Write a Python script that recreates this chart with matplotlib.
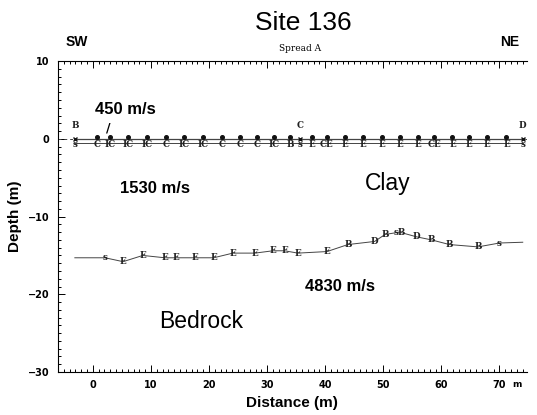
import matplotlib.pyplot as plt
from matplotlib.ticker import MultipleLocator

# geophone positions along spread A (m)
geo_x = [0.8, 3.0, 6.1, 9.4, 12.6, 15.7, 19.0, 22.3, 25.4, 28.3, 31.2, 34.0,
         37.7, 40.3, 43.4, 46.5, 49.7, 52.8, 55.9, 58.8, 61.9, 64.8, 67.9, 71.2]
# first-layer interface picks (letter codes at each geophone)
layer1_z = [-0.5] * 24
layer1_lbl = ["C", "IC", "IC", "IC", "C", "IC", "IC", "C", "C", "C", "IC", "B",
              "E", "CE", "E", "E", "E", "E", "E", "CE", "E", "E", "E", "E"]

# shot points
shot_x = [-3.0, 35.7, 74.0]
shot_lbl = ["B", "C", "D"]

# bedrock refractor
bed_x = [-3.1, 2.1, 5.2, 8.6, 12.4, 14.3, 17.6, 20.8, 24.1, 27.9, 31.0, 33.0,
         35.3, 40.3, 43.9, 48.5, 50.3, 52.8, 55.7, 58.3, 61.4, 66.3, 70.0, 74.0]
bed_z = [-15.3, -15.3, -15.8, -15.0, -15.3, -15.3, -15.3, -15.3, -14.7, -14.7,
         -14.4, -14.4, -14.7, -14.5, -13.6, -13.2, -12.3, -12.0, -12.6, -13.0,
         -13.6, -13.9, -13.4, -13.3]
bed_lbl = ["", "s", "E", "E", "E", "E", "E", "E", "E", "E", "E", "E",
           "E", "E", "B", "D", "B", "sB", "D", "B", "B", "B", "s", ""]

fig = plt.figure(figsize=(5.37, 4.15), dpi=100)
ax = fig.add_axes([0.108, 0.1036, 0.873, 0.749])

grey = "#444444"
serif = dict(family="DejaVu Serif", fontweight="bold", fontsize=6.3,
             ha="center", va="center", color="#222222")

# ground surface, dashed datum and geophones
ax.axhline(0, color=grey, lw=0.7, ls=(0, (3, 3)))
ax.plot([shot_x[0], shot_x[-1]], [0, 0], color=grey, lw=0.9)
ax.plot(geo_x, [0.3] * len(geo_x), "o", ms=2.6, color="#111111")
ax.plot(shot_x, [0, 0, 0], "x", ms=3.5, mew=1.0, color="#111111")
for x, s in zip(shot_x, shot_lbl):
    ax.text(x, 1.7, s, **serif)

# first interface
ax.plot([shot_x[0]] + geo_x + [shot_x[-1]], [-0.5] + layer1_z + [-0.5],
        color=grey, lw=0.7)
for x, z, s in zip(geo_x, layer1_z, layer1_lbl):
    ax.text(x, z - 0.2, s, **serif)
for x in shot_x:
    ax.text(x, -0.7, "s", **serif)

# bedrock
ax.plot(bed_x, bed_z, color=grey, lw=0.7)
for x, z, s in zip(bed_x, bed_z, bed_lbl):
    if s:
        ax.text(x, z, s, **serif)

# velocities and layer names
vel = dict(fontweight="bold", fontsize=12, family="Liberation Sans")
ax.text(0.4, 3.2, "450 m/s", **vel)
ax.text(2.6, 0.6, "/", fontsize=9, fontweight="bold", ha="center", va="bottom")
ax.text(4.6, -7.0, "1530 m/s", **vel)
ax.text(36.5, -19.6, "4830 m/s", **vel)
ax.text(46.8, -6.6, "Clay", fontsize=16.5, family="Liberation Sans")
ax.text(11.4, -24.4, "Bedrock", fontsize=16.5, family="Liberation Sans")

ax.set_xlim(-6, 74.7)
ax.set_ylim(-30, 10)

ax.spines["right"].set_visible(False)
for side in ["left", "top", "bottom"]:
    ax.spines[side].set_linewidth(0.8)

ax.xaxis.set_major_locator(MultipleLocator(10))
ax.xaxis.set_minor_locator(MultipleLocator(1))
ax.yaxis.set_major_locator(MultipleLocator(10))
ax.yaxis.set_minor_locator(MultipleLocator(1))
ax.tick_params(which="both", direction="in", top=True, right=False,
               labelsize=7, pad=6, width=0.7)
ax.tick_params(which="major", length=5)
ax.tick_params(which="minor", length=2.2)
ax.set_xticks([0, 10, 20, 30, 40, 50, 60, 70])
for lbl in ax.get_xticklabels() + ax.get_yticklabels():
    lbl.set_fontweight("bold")
ax.text(73.0, -31.55, "m", fontsize=6.5, fontweight="bold", ha="center",
        va="center", clip_on=False)

ax.set_xlabel("Distance (m)", fontsize=11, fontweight="bold",
              family="Liberation Sans", labelpad=4)
ax.set_ylabel("Depth (m)", fontsize=11, fontweight="bold",
              family="Liberation Sans", labelpad=4)

fig.text(0.565, 0.945, "Site 136", fontsize=19, family="Liberation Sans",
         ha="center", va="center")
fig.text(0.143, 0.898, "SW", fontsize=10, fontweight="bold",
         family="Liberation Sans", ha="center", va="center")
fig.text(0.950, 0.898, "NE", fontsize=10, fontweight="bold",
         family="Liberation Sans", ha="center", va="center")
fig.text(0.558, 0.884, "Spread A", fontsize=6.5, family="DejaVu Serif",
         ha="center", va="center")

fig.savefig("out.png", dpi=100)
